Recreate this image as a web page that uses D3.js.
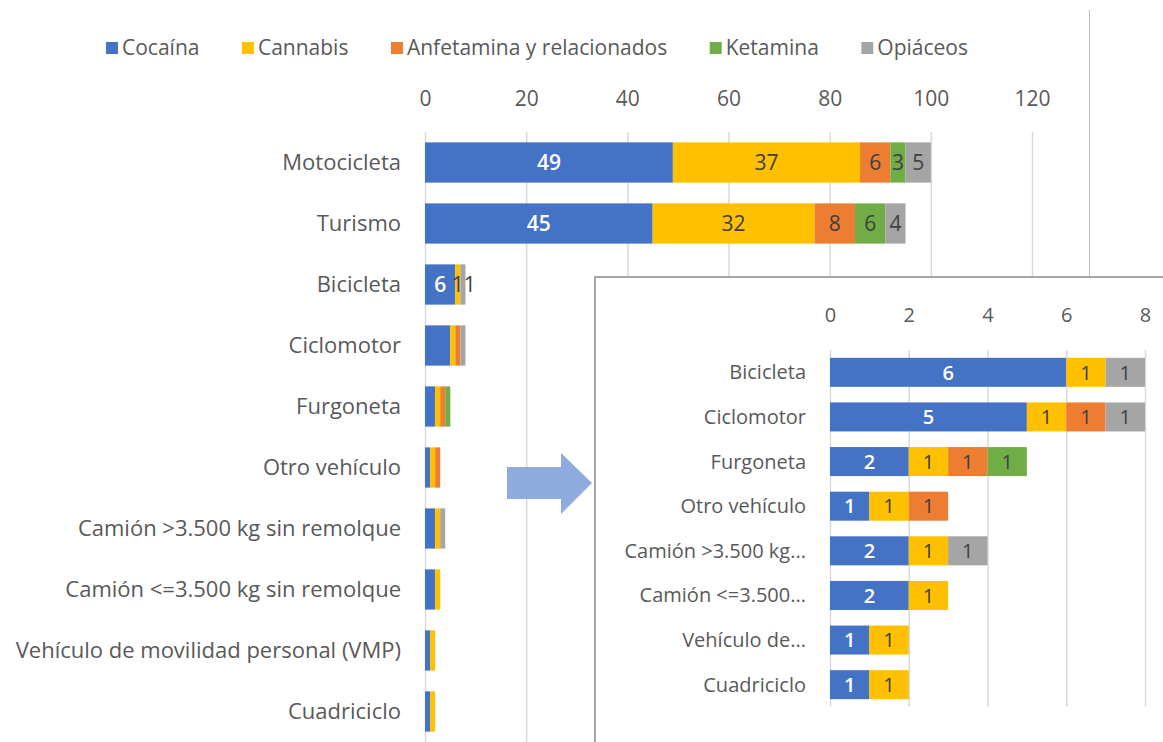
<!DOCTYPE html>
<html lang="es">
<head>
<meta charset="UTF-8">
<title>Sustancias por tipo de vehículo</title>
<script src="https://d3js.org/d3.v7.min.js"></script>
<style>
    body { margin: 0; background: #fff; }
    svg { display: block; font-family: "Open Sans", sans-serif; }
    .cat { fill: #595959; font-size: 22px; }
    .leg { fill: #595959; font-size: 21px; }
    .icat { fill: #595959; font-size: 20px; }
    .tick text { fill: #595959; font-size: 20px; font-family: "Open Sans", sans-serif; }
    .val { font-size: 20px; text-anchor: middle; }
</style>
</head>
<body>
<svg id="chart" width="1163" height="742"></svg>
<script>
// datos
const categories = ["Motocicleta", "Turismo", "Bicicleta", "Ciclomotor", "Furgoneta", "Otro vehículo",
    "Camión >3.500 kg sin remolque", "Camión <=3.500 kg sin remolque",
    "Vehículo de movilidad personal (VMP)", "Cuadriciclo"];
const insetLabels = ["Bicicleta", "Ciclomotor", "Furgoneta", "Otro vehículo",
    "Camión >3.500 kg...", "Camión <=3.500...", "Vehículo de...", "Cuadriciclo"];
const series = ["Cocaína", "Cannabis", "Anfetamina y relacionados", "Ketamina", "Opiáceos"];
const cocaina    = [49, 45, 6, 5, 2, 1, 2, 2, 1, 1];
const cannabis   = [37, 32, 1, 1, 1, 1, 1, 1, 1, 1];
const anfetamina = [6, 8, 0, 1, 1, 1, 0, 0, 0, 0];
const ketamina   = [3, 6, 0, 0, 1, 0, 0, 0, 0, 0];
const opiaceos   = [5, 4, 1, 1, 0, 0, 1, 0, 0, 0];
const mainTicks = [0, 20, 40, 60, 80, 100, 120];
const insetTicks = [0, 2, 4, 6, 8];
const mainLabeled = ["Motocicleta", "Turismo", "Bicicleta"];  // filas con etiquetas en el gráfico grande

const colors = ["#4472C4", "#FFC000", "#ED7D31", "#70AD47", "#A5A5A5"];
const color = d3.scaleOrdinal(series, colors);

const table = categories.map((c, i) => ({
    cat: c,
    "Cocaína": cocaina[i],
    "Cannabis": cannabis[i],
    "Anfetamina y relacionados": anfetamina[i],
    "Ketamina": ketamina[i],
    "Opiáceos": opiaceos[i]
}));
const stacked = d3.stack().keys(series)(table);

const svg = d3.select("#chart");

// etiquetas de valor, empujando a la derecha las que se pisan
function valueLabels(layer, xs, ys, cats, fontSize) {
    const lastX = {};
    stacked.forEach((s, si) => {
        s.filter(d => d[1] > d[0] && cats.includes(d.data.cat)).forEach(d => {
            let cx = (xs(d[0]) + xs(d[1])) / 2;
            const prev = lastX[d.data.cat];
            if (prev !== undefined && cx < prev + 12) cx = prev + 12;
            lastX[d.data.cat] = cx;
            layer.append("text")
                .attr("class", "val")
                .style("font-size", fontSize + "px")
                .attr("fill", si === 0 ? "#fff" : "#404040")
                .attr("font-weight", si === 0 ? 600 : 400)
                .attr("x", cx)
                .attr("y", ys(d.data.cat) + ys.bandwidth() / 2)
                .attr("dy", "0.36em")
                .text(d[1] - d[0]);
        });
    });
}

// ---- gráfico principal ----
const x = d3.scaleLinear([0, 120], [425, 1032]);
const y = d3.scaleBand(categories, [132, 742]).paddingInner(0.34).paddingOuter(0.17);

svg.append("g")
    .attr("transform", "translate(0,132)")
    .call(d3.axisTop(x).tickValues(mainTicks).tickSize(-610).tickFormat(""))
    .call(g => g.select(".domain").remove())
    .call(g => g.selectAll("line").attr("stroke", "#d9d9d9").attr("stroke-width", 1.5));

svg.append("g")
    .attr("transform", "translate(0,132)")
    .call(d3.axisTop(x).tickValues(mainTicks).tickSize(0).tickPadding(26))
    .call(g => g.select(".domain").remove())
    .call(g => g.selectAll("text").style("font-size", "21px"));

svg.append("g").selectAll("text")
    .data(categories)
    .join("text")
    .attr("class", "cat")
    .attr("x", 401)
    .attr("y", d => y(d) + y.bandwidth() / 2)
    .attr("dy", "0.35em")
    .attr("text-anchor", "end")
    .text(d => d);

const mainLayer = svg.append("g");
stacked.forEach(s => {
    mainLayer.append("g")
        .attr("fill", color(s.key))
        .selectAll("rect")
        .data(s.filter(d => d[1] > d[0]))
        .join("rect")
        .attr("x", d => x(d[0]))
        .attr("y", d => y(d.data.cat))
        .attr("width", d => x(d[1]) - x(d[0]))
        .attr("height", y.bandwidth());
});
valueLabels(mainLayer.append("g"), x, y, mainLabeled, 21);

// leyenda: de x=106 hasta x≈968, huecos iguales
const legend = svg.append("g").attr("transform", "translate(106,48)");
const items = series.map(s => {
    const g = legend.append("g");
    g.append("rect").attr("x", 0).attr("y", -6).attr("width", 12).attr("height", 12).attr("fill", color(s));
    const t = g.append("text").attr("class", "leg").attr("x", 16).attr("dy", "0.35em").text(s);
    return { g, w: 16 + t.node().getComputedTextLength() };
});
const gap = (862 - d3.sum(items, d => d.w)) / (items.length - 1);
let lx = 0;
items.forEach(it => {
    it.g.attr("transform", `translate(${lx},0)`);
    lx += it.w + gap;
});

// borde del gráfico principal
svg.append("line").attr("x1", 1089.5).attr("x2", 1089.5).attr("y1", 10).attr("y2", 276)
    .attr("stroke", "#bfbfbf").attr("stroke-width", 1);

// flecha
svg.append("path")
    .attr("d", "M507,467 L561,467 L561,453 L592,483 L561,514 L561,499 L507,499 Z")
    .attr("fill", "#8FAADC");

// ---- detalle ----
const insetCats = categories.slice(2);
const labelOf = d3.scaleOrdinal(insetCats, insetLabels);
const xi = d3.scaleLinear([0, 8], [830, 1145]);
const yi = d3.scaleBand(insetCats, [350, 707]).paddingInner(0.35).paddingOuter(0.175);

svg.append("rect")
    .attr("x", 595).attr("y", 277).attr("width", 600).attr("height", 500)
    .attr("fill", "#fff").attr("stroke", "#a6a6a6").attr("stroke-width", 2);

svg.append("g")
    .attr("transform", "translate(0,350)")
    .call(d3.axisTop(xi).tickValues(insetTicks).tickSize(-357).tickFormat(""))
    .call(g => g.select(".domain").remove())
    .call(g => g.selectAll("line").attr("stroke", "#d9d9d9").attr("stroke-width", 1.5));

svg.append("g")
    .attr("transform", "translate(0,350)")
    .call(d3.axisTop(xi).tickValues(insetTicks).tickSize(0).tickPadding(28))
    .call(g => g.select(".domain").remove());

svg.append("g").selectAll("text")
    .data(insetCats)
    .join("text")
    .attr("class", "icat")
    .attr("x", 806)
    .attr("y", d => yi(d) + yi.bandwidth() / 2)
    .attr("dy", "0.35em")
    .attr("text-anchor", "end")
    .text(d => labelOf(d));

const insetLayer = svg.append("g");
stacked.forEach(s => {
    insetLayer.append("g")
        .attr("fill", color(s.key))
        .selectAll("rect")
        .data(s.filter(d => d[1] > d[0] && insetCats.includes(d.data.cat)))
        .join("rect")
        .attr("x", d => xi(d[0]))
        .attr("y", d => yi(d.data.cat))
        .attr("width", d => xi(d[1]) - xi(d[0]))
        .attr("height", yi.bandwidth());
});
valueLabels(insetLayer.append("g"), xi, yi, insetCats, 20);
</script>
</body>
</html>
